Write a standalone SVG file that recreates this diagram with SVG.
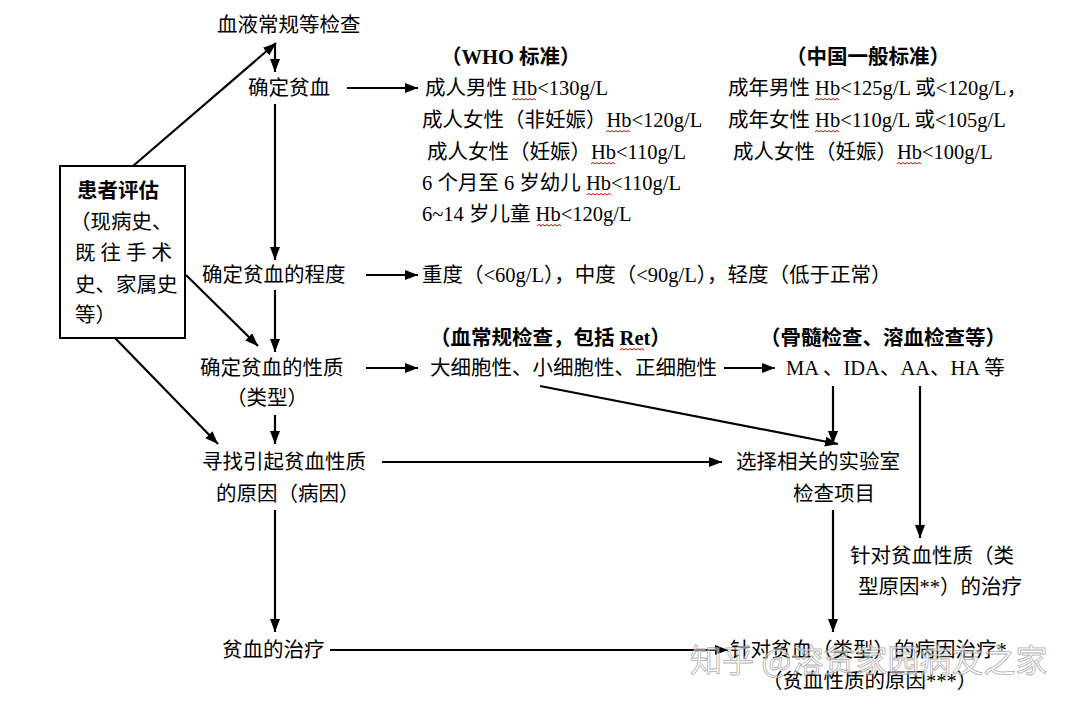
<svg xmlns="http://www.w3.org/2000/svg" xmlns:xlink="http://www.w3.org/1999/xlink" width="1070" height="707" viewBox="0 0 1070 707">
<style>
text{font-family:"Liberation Serif","Noto Sans CJK SC",serif;font-size:20.5px;fill:#000}
.b{font-weight:bold}
.c line{stroke:#000;stroke-width:2.2;marker-end:url(#ah)}
.sq{fill:none;stroke:#d00;stroke-width:1}
.wm{font-family:"Noto Sans CJK SC",sans-serif;font-size:32px;fill:#fff;fill-opacity:0.55;stroke:#888;stroke-width:0.8;stroke-opacity:0.7}
</style>
<defs>
<marker id="ah" markerUnits="userSpaceOnUse" markerWidth="14" markerHeight="11" refX="13" refY="5" orient="auto">
<path d="M0,0 L13,5 L0,10 z" fill="#000"/>
</marker>
<path id="sq" d="M0,0 l2,-1.5 l2,1.5 l2,-1.5 l2,1.5 l2,-1.5 l2,1.5 l2,-1.5 l2,1.5 l2,-1.5 l2,1.5 l2,-1.5 l2,1.5"/>
</defs>
<rect width="1070" height="707" fill="#fff"/>

<g class="c" id="connectors">
<line x1="133" y1="166" x2="276" y2="43"/>
<line x1="275" y1="43" x2="275" y2="72"/>
<line x1="347" y1="88" x2="418" y2="88"/>
<line x1="275" y1="104" x2="275" y2="260"/>
<line x1="366" y1="275" x2="418" y2="275"/>
<line x1="275" y1="290" x2="275" y2="352"/>
<line x1="186" y1="275" x2="258" y2="346"/>
<line x1="366" y1="368" x2="418" y2="368"/>
<line x1="724" y1="368" x2="775" y2="368"/>
<line x1="275" y1="415" x2="275" y2="444"/>
<line x1="115" y1="338" x2="218" y2="444"/>
<line x1="382" y1="462" x2="722" y2="462"/>
<line x1="540" y1="386" x2="838" y2="444"/>
<line x1="833" y1="386" x2="833" y2="444"/>
<line x1="920" y1="386" x2="920" y2="538"/>
<line x1="833" y1="510" x2="833" y2="632"/>
<line x1="275" y1="510" x2="275" y2="632"/>
<line x1="330" y1="650" x2="728" y2="650"/>
</g>

<g id="patient">
<rect x="60" y="166" width="125" height="172" fill="none" stroke="#000" stroke-width="2"/>
<text class="b" x="77" y="198">患者评估</text>
<text x="70" y="229">（现病史、</text>
<text x="75" y="260" letter-spacing="5">既往手术</text>
<text x="75" y="292">史、家属史</text>
<text x="75" y="322">等）</text>
</g>

<g id="blood-test"><text x="217" y="32">血液常规等检查</text></g>
<g id="confirm"><text x="248" y="95">确定贫血</text></g>

<g id="who">
<text class="b" x="441" y="64">（WHO 标准）</text>
<text x="425" y="95">成人男性 Hb&lt;130g/L</text>
<text x="422" y="127">成人女性（非妊娠）Hb&lt;120g/L</text>
<text x="427" y="159">成人女性（妊娠）Hb&lt;110g/L</text>
<text x="422" y="190">6 个月至 6 岁幼儿 Hb&lt;110g/L</text>
<text x="422" y="221">6~14 岁儿童 Hb&lt;120g/L</text>
</g>

<g id="china">
<text class="b" x="786" y="64">（中国一般标准）</text>
<text x="728" y="95">成年男性 Hb&lt;125g/L 或&lt;120g/L，</text>
<text x="728" y="127">成年女性 Hb&lt;110g/L 或&lt;105g/L</text>
<text x="733" y="159">成人女性（妊娠）Hb&lt;100g/L</text>
</g>

<g id="degree"><text x="202" y="282">确定贫血的程度</text></g>
<g id="degree-values"><text x="422" y="282">重度（&lt;60g/L），中度（&lt;90g/L），轻度（低于正常）</text></g>

<g id="nature">
<text x="200" y="375">确定贫血的性质</text>
<text x="226" y="405">（类型）</text>
</g>
<g id="cbc">
<text class="b" x="430" y="345">（血常规检查，包括 Ret）</text>
<text x="430" y="375">大细胞性、小细胞性、正细胞性</text>
</g>
<g id="marrow">
<text class="b" x="760" y="345">（骨髓检查、溶血检查等）</text>
<text x="786" y="375">MA 、IDA、AA、HA 等</text>
</g>

<g id="cause">
<text x="202" y="469">寻找引起贫血性质</text>
<text x="216" y="501">的原因（病因）</text>
</g>
<g id="lab">
<text x="736" y="469">选择相关的实验室</text>
<text x="793" y="501">检查项目</text>
</g>

<g id="type-treat">
<text x="850" y="563">针对贫血性质（类</text>
<text x="858" y="594">型原因**）的治疗</text>
</g>

<g id="treat"><text x="222" y="657">贫血的治疗</text></g>
<g id="cause-treat">
<text x="730" y="657">针对贫血（类型）的病因治疗*</text>
<text x="762" y="688">（贫血性质的原因***）</text>
</g>

<g id="squiggles" class="sq">
<use xlink:href="#sq" x="512" y="100"/>
<use xlink:href="#sq" x="606" y="132"/>
<use xlink:href="#sq" x="591" y="164"/>
<use xlink:href="#sq" x="587" y="195"/>
<use xlink:href="#sq" x="537" y="226"/>
<use xlink:href="#sq" x="815" y="100"/>
<use xlink:href="#sq" x="815" y="132"/>
<use xlink:href="#sq" x="897" y="164"/>
<use xlink:href="#sq" x="620" y="350"/>
</g>

<text class="wm" x="690" y="672">知乎 @溶贫家园病友之家</text>
</svg>
